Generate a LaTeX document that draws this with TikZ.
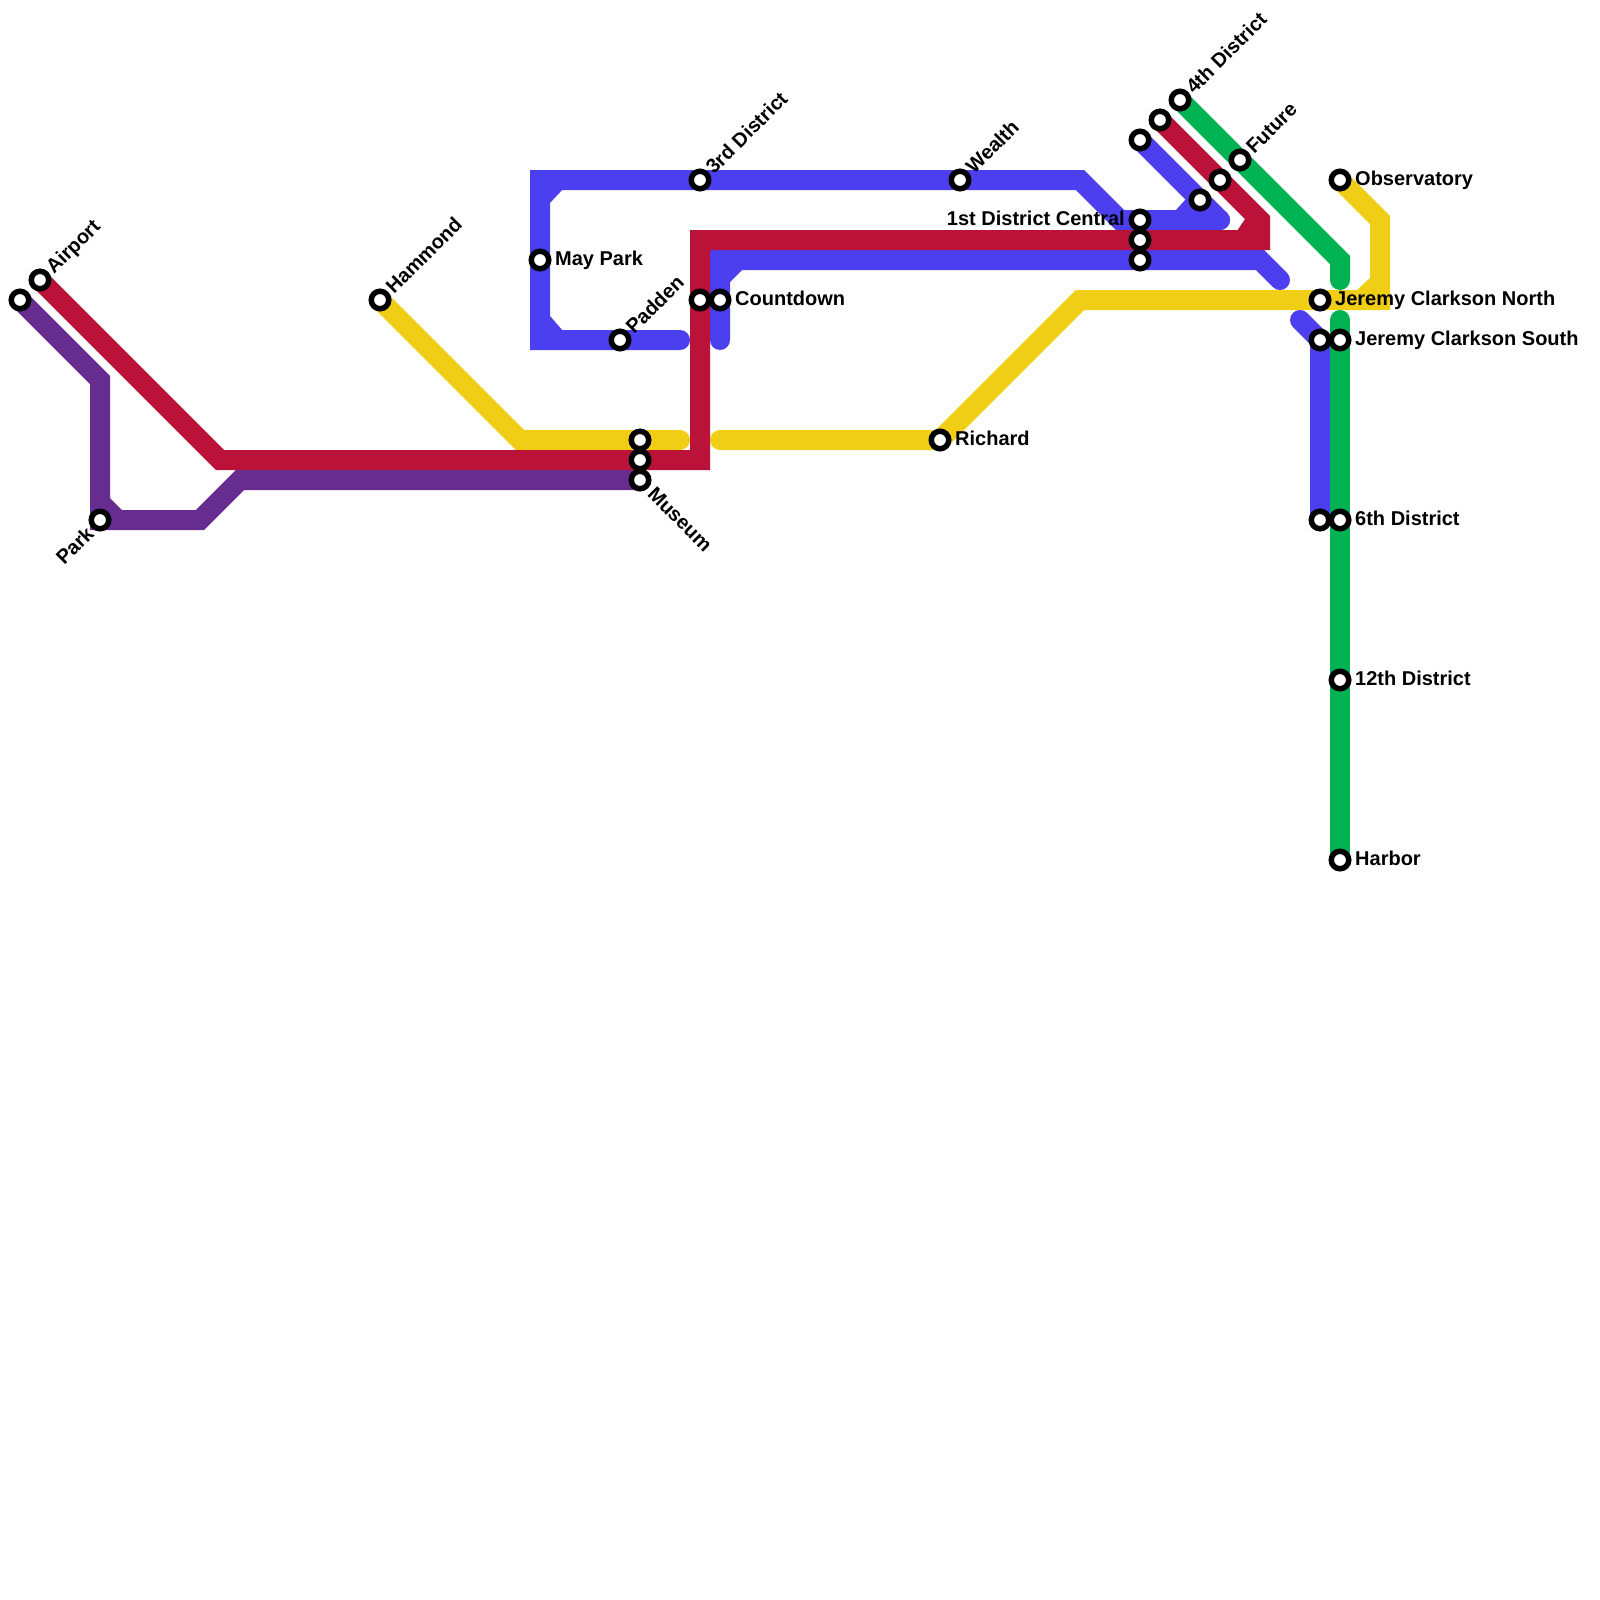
\documentclass[tikz,border=0pt]{standalone}
\usepackage{fontspec}
\setmainfont{Liberation Sans}
\definecolor{bluel}{HTML}{4B3FF0}
\definecolor{redl}{HTML}{BA1238}
\definecolor{greenl}{HTML}{00B251}
\definecolor{yellowl}{HTML}{F0CE15}
\definecolor{purplel}{HTML}{662C90}
\tikzset{
  metro/.style={line width=20pt, line cap=round, line join=miter},
  stop/.style={circle, draw=black, fill=white, line width=5.5pt, minimum size=17.5pt, inner sep=0pt},
  tag/.style={font=\fontsize{20}{22}\selectfont\bfseries, inner sep=0pt, text=black, text height=14.4pt, text depth=0pt},
}
\begin{document}
\begin{tikzpicture}[x=1pt, y=-1pt]
  \useasboundingbox (0,0) rectangle (1600,1600);
  \foreach \n/\x/\y in {parkend/20/300, airport/40/280, park/100/520, hammond/380/300, maypark/540/260,
    padden/620/340, yellowm/640/440, redm/640/460, museum/640/480, third/700/180, redc/700/300,
    countdown/720/300, wealth/960/180, richard/940/440, bluef/1140/140, redf/1160/120, fourth/1180/100,
    central/1140/220, redd/1140/240, bluee/1140/260, blueg/1200/200, redg/1220/180, future/1240/160,
    observatory/1340/180, north/1320/300, blues/1320/340, south/1340/340, bluesix/1320/520, sixth/1340/520,
    twelfth/1340/680, harbor/1340/860}
    \coordinate (\n) at (\x,\y);
  % lines
  \draw[metro, yellowl] (hammond) -- (520,440) -- (680,440);
  \draw[metro, yellowl] (720,440) -- (richard) -- (1080,300) -- (north) -- (1380,300) -- (1380,220) -- (observatory);
  \fill[yellowl] (1372,276) -- (1356,291) -- (1372,291) -- cycle;
  \draw[metro, bluel] (680,340) -- (padden) -- (540,340) -- (maypark) -- (540,180) -- (third) -- (wealth) -- (1080,180) -- (1120,220) -- (central) -- (1220,220);
  \draw[metro, bluel] (1220,220) -- (blueg) -- (bluef);
  \fill[bluel] (550,189) -- (550,203) -- (563,189) -- cycle;
  \fill[bluel] (550,331) -- (550,316) -- (563,331) -- cycle;
  \fill[bluel] (1175,211) -- (1186,199) -- (1198,211) -- cycle;
  \draw[metro, bluel] (720,340) -- (countdown) -- (720,260) -- (bluee) -- (1260,260) -- (1280,280);
  \fill[bluel] (729,269) -- (729,283) -- (743,269) -- cycle;
  \draw[metro, bluel] (1300,320) -- (blues) -- (bluesix);
  \draw[metro, purplel] (parkend) -- (100,380) -- (park) -- (200,520) -- (240,480) -- (museum);
  \fill[purplel] (109,511) -- (109,497) -- (123,511) -- cycle;
  \draw[metro, redl] (airport) -- (220,460) -- (redm) -- (700,460) -- (redc) -- (700,240) -- (redd) -- (1260,240) -- (1260,220) -- (redg) -- (redf);
  \fill[redl] (1237,231) -- (1245,219) -- (1252,219) -- (1252,231) -- cycle;
  \draw[metro, greenl] (fourth) -- (future) -- (1340,260) -- (1340,280);
  \draw[metro, greenl] (1340,320) -- (south) -- (sixth) -- (twelfth) -- (harbor);
  % stations
  \foreach \n in {parkend, airport, park, hammond, maypark, padden, yellowm, redm, museum, third, redc,
    countdown, wealth, richard, bluef, redf, fourth, central, redd, bluee, blueg, redg, future,
    observatory, north, blues, south, bluesix, sixth, twelfth, harbor}
    \node[stop] (\n-s) at (\n) {};
  % labels
  \foreach \n/\t in {maypark/May Park, countdown/Countdown, richard/Richard, observatory/Observatory, north/Jeremy Clarkson North,
    south/Jeremy Clarkson South, sixth/6th District, twelfth/12th District, harbor/Harbor}
    \node[tag, anchor=west] (\n-l) at ([xshift=15pt, yshift=1.5pt]\n) {\t};
  \foreach \n/\t in {airport/Airport, hammond/Hammond, padden/Padden, third/3rd District, wealth/Wealth, fourth/4th District, future/Future}
    \node[tag, anchor=west, rotate=45] (\n-l) at ([xshift=9pt, yshift=10pt]\n) {\t};
  \node[tag, anchor=east] (central-l) at ([xshift=-15pt, yshift=1.5pt]central) {1st District Central};
  \node[tag, anchor=east, rotate=45] (park-l) at ([xshift=-10pt, yshift=-10pt]park) {Park};
  \node[tag, anchor=west, rotate=-45] (museum-l) at ([xshift=11.5pt, yshift=-10pt]museum) {Museum};
\end{tikzpicture}
\end{document}
